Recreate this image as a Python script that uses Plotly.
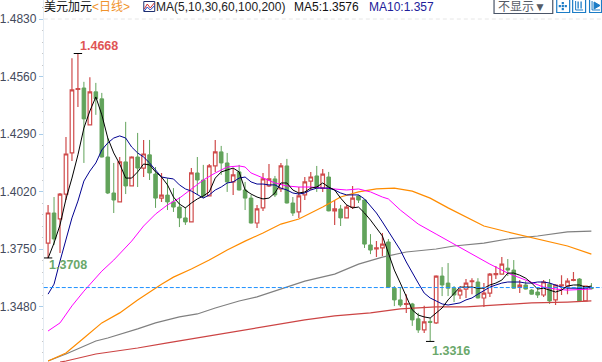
import plotly.graph_objects as go

# ---- data ----
opens = [1.3778,1.3919,1.3891,1.4008,1.4201,1.4499,1.4506,1.4333,1.4488,1.4455,1.4182,1.4013,1.3971,1.4159,1.4046,1.4182,
         1.4130,1.4192,1.4102,1.3989,1.4003,1.3971,1.3947,1.3896,1.3877,1.4107,1.4074,1.3999,1.4140,1.4206,1.4154,1.4065,
         1.4112,1.4027,1.3989,1.3872,1.3943,1.4046,1.4079,1.4032,1.4140,1.3966,1.3924,1.4004,1.4069,1.4093,1.4036,1.4088,
         1.3929,1.3938,1.3896,1.3947,1.3999,1.3980,1.3769,1.3750,1.3755,1.3783,1.3566,1.3511,1.3490,1.3492,1.3422,1.3370,
         1.3410,1.3403,1.3623,1.3590,1.3566,1.3534,1.3562,1.3597,1.3595,1.3520,1.3543,1.3630,1.3632,1.3660,1.3651,1.3571,
         1.3581,1.3557,1.3548,1.3534,1.3585,1.3511,1.3578,1.3576,1.3602,1.3609,1.3506,1.3569]
highs = [1.3957,1.3994,1.4013,1.4276,1.4646,1.4668,1.4535,1.4557,1.4530,1.4483,1.4271,1.4154,1.4182,1.4347,1.4185,1.4295,
         1.4262,1.4262,1.4135,1.4107,1.4083,1.4036,1.3994,1.3947,1.4130,1.4182,1.4145,1.4149,1.4262,1.4234,1.4201,1.4130,
         1.4145,1.4065,1.4004,1.3957,1.4107,1.4149,1.4093,1.4154,1.4173,1.3994,1.4041,1.4088,1.4112,1.4140,1.4126,1.4112,
         1.3980,1.3957,1.3957,1.4046,1.4004,1.3982,1.3820,1.3787,1.3825,1.3797,1.3576,1.3571,1.3538,1.3497,1.3450,1.3483,
         1.3427,1.3627,1.3665,1.3684,1.3576,1.3576,1.3609,1.3613,1.3613,1.3590,1.3637,1.3670,1.3712,1.3703,1.3698,1.3604,
         1.3599,1.3562,1.3566,1.3604,1.3609,1.3585,1.3627,1.3613,1.3642,1.3613,1.3578,1.3590]
lows = [1.3708,1.3769,1.3731,1.3980,1.4163,1.4417,1.4154,1.4330,1.4380,1.4180,1.4008,1.3919,1.3969,1.4008,1.4044,1.4041,
        1.4088,1.4074,1.3943,1.3971,1.3933,1.3924,1.3853,1.3863,1.3875,1.4004,1.3989,1.3997,1.4112,1.4098,1.4018,1.4004,
        1.4025,1.3933,1.3870,1.3849,1.3929,1.4041,1.3994,1.4018,1.3964,1.3905,1.3896,1.3980,1.4027,1.4018,1.4018,1.3927,
        1.3863,1.3858,1.3894,1.3938,1.3966,1.3755,1.3726,1.3712,1.3717,1.3569,1.3482,1.3478,1.3450,1.3389,1.3356,1.3356,
        1.3316,1.3398,1.3529,1.3529,1.3501,1.3515,1.3520,1.3538,1.3518,1.3478,1.3525,1.3609,1.3630,1.3623,1.3564,1.3543,
        1.3560,1.3536,1.3520,1.3525,1.3492,1.3487,1.3534,1.3538,1.3599,1.3504,1.3504,1.3560]
closes = [1.3919,1.3797,1.4008,1.4196,1.4497,1.4503,1.4361,1.4488,1.4455,1.4182,1.4013,1.3980,1.4159,1.4046,1.4182,1.4130,
          1.4196,1.4107,1.3989,1.4003,1.3971,1.3947,1.3896,1.3877,1.4107,1.4074,1.3999,1.4140,1.4206,1.4154,1.4065,1.4098,
          1.4027,1.3989,1.3872,1.3938,1.4079,1.4079,1.4004,1.4140,1.3966,1.3919,1.3999,1.4065,1.4088,1.4036,1.4102,1.3929,
          1.3938,1.3896,1.3947,1.3989,1.3980,1.3773,1.3745,1.3755,1.3773,1.3571,1.3511,1.3487,1.3494,1.3417,1.3370,1.3408,
          1.3405,1.3623,1.3581,1.3566,1.3534,1.3557,1.3590,1.3600,1.3520,1.3543,1.3632,1.3634,1.3679,1.3651,1.3566,1.3581,
          1.3562,1.3538,1.3534,1.3595,1.3506,1.3581,1.3582,1.3599,1.3606,1.3506,1.3576,1.3564]

ma5 = [1.3707,1.3778,1.3863,1.3985,1.4083,1.4192,1.4318,1.4398,1.4464,1.4380,1.4271,1.4201,1.4149,1.4083,1.4083,1.4112,
       1.4149,1.4145,1.4112,1.4088,1.4051,1.3994,1.3961,1.3943,1.3966,1.3985,1.3999,1.4018,1.4083,1.4112,1.4121,1.4130,
       1.4112,1.4027,1.4008,1.3994,1.3985,1.3989,1.4013,1.4060,1.4060,1.4027,1.4013,1.4018,1.4036,1.4041,1.4060,1.4041,
       1.4027,1.3989,1.3957,1.3943,1.3947,1.3919,1.3886,1.3849,1.3811,1.3731,1.3651,1.3590,1.3525,1.3464,1.3440,1.3431,
       1.3426,1.3450,1.3473,1.3511,1.3543,1.3571,1.3571,1.3571,1.3566,1.3566,1.3581,1.3590,1.3604,1.3637,1.3637,1.3627,
       1.3613,1.3590,1.3562,1.3566,1.3557,1.3548,1.3557,1.3576,1.3581,1.3581,1.3571,1.3576]
ma10 = [1.3538,1.3585,1.3693,1.3801,1.3896,1.3975,1.4069,1.4116,1.4154,1.4215,1.4248,1.4271,1.4281,1.4271,1.4229,1.4201,
        1.4182,1.4154,1.4121,1.4088,1.4083,1.4079,1.4051,1.4032,1.4022,1.4004,1.3989,1.4004,1.4027,1.4041,1.4060,1.4065,
        1.4083,1.4088,1.4065,1.4055,1.4055,1.4051,1.4051,1.4036,1.4027,1.4013,1.4008,1.4013,1.4027,1.4036,1.4036,1.4036,
        1.4027,1.4013,1.4004,1.4004,1.4004,1.3985,1.3952,1.3919,1.3877,1.3834,1.3792,1.3745,1.3689,1.3637,1.3590,1.3543,
        1.3520,1.3506,1.3492,1.3487,1.3492,1.3497,1.3511,1.3520,1.3538,1.3553,1.3571,1.3581,1.3590,1.3595,1.3595,1.3595,
        1.3590,1.3590,1.3595,1.3595,1.3590,1.3581,1.3571,1.3566,1.3566,1.3566,1.3566,1.3570]
ma30_idx = [0,2,4,6,9,11,14,16,18,20,22,24,26,28,30,32,33,34,36,38,40,42,44,46,48,50,52,54,56,57,59,62,65,68,71,74,77,80,83,85,87,91]
ma30 = [1.3365,1.3403,1.3483,1.3552,1.3646,1.3698,1.3787,1.3858,1.3914,1.3957,1.3989,1.4032,1.4074,1.4107,1.4135,1.4140,1.4135,
        1.4107,1.4083,1.4060,1.4046,1.4041,1.4041,1.4036,1.4032,1.4027,1.4032,1.4018,1.3994,1.3985,1.3933,1.3867,1.3820,1.3773,
        1.3722,1.3679,1.3637,1.3604,1.3571,1.3562,1.3557,1.3562]
ma60_idx = [0,3,6,9,12,15,19,21,24,27,30,33,36,39,42,46,49,52,55,58,61,64,67,70,73,77,82,87,91]
ma60 = [1.3224,1.3262,1.3332,1.3403,1.3450,1.3511,1.3585,1.3618,1.3656,1.3698,1.3745,1.3787,1.3825,1.3867,1.3891,1.3947,1.3994,
        1.4018,1.4032,1.4036,1.4022,1.3989,1.3943,1.3900,1.3858,1.3830,1.3797,1.3764,1.3726]
ma100_idx = [0,3,8,10,15,18,22,25,28,32,35,39,43,48,52,56,60,65,68,73,77,82,87,91]
ma100 = [1.3224,1.3257,1.3318,1.3332,1.3375,1.3403,1.3431,1.3445,1.3473,1.3506,1.3525,1.3562,1.3599,1.3632,1.3679,1.3712,1.3736,
         1.3750,1.3764,1.3778,1.3797,1.3811,1.3830,1.3834]
ma200_idx = [2,3,8,15,20,29,34,37,41,43,48,54,59,65,70,76,81,87,91]
ma200 = [1.3219,1.3224,1.3257,1.3285,1.3309,1.3351,1.3375,1.3389,1.3408,1.3417,1.3436,1.3450,1.3469,1.3478,1.3478,1.3487,1.3497,
         1.3501,1.3506]

tick_vals = [1.4830, 1.4560, 1.4290, 1.4020, 1.3750, 1.3480]
tick_labels = ["1.4830", "1.4560", "1.4290", "1.4020", "1.3750", "1.3480"]
current_price = 1.3569
top_price = 1.4830
high_point = (5, 1.4668)
low_point_a = (0, 1.3708)
low_point_b = (64, 1.3316)

W, H = 602, 362
RED = "#cf4b4b"
GREEN = "#62a35b"
FONT = "Liberation Sans, Arial, Noto Sans CJK SC"
idx = list(range(len(opens)))

fig = go.Figure()
fig.add_trace(go.Candlestick(
    x=idx, open=opens, high=highs, low=lows, close=closes, whiskerwidth=0,
    increasing=dict(line=dict(color=RED, width=1.2), fillcolor="white"),
    decreasing=dict(line=dict(color=GREEN, width=1), fillcolor=GREEN),
    hoverinfo="skip", showlegend=False))

for xs, ys, col, w in [
    (ma200_idx, ma200, "#cc4444", 1.2),
    (ma100_idx, ma100, "#808080", 1.2),
    (ma60_idx, ma60, "#ff8c00", 1.2),
    (ma30_idx, ma30, "#ff00ff", 1),
    (idx, ma10, "#000090", 1),
    (idx, ma5, "#000000", 1),
]:
    fig.add_trace(go.Scatter(x=xs, y=ys, mode="lines", line=dict(color=col, width=w),
                             hoverinfo="skip", showlegend=False))

fig.add_trace(go.Scatter(
    x=[high_point[0], low_point_a[0], low_point_b[0]],
    y=[high_point[1], low_point_a[1], low_point_b[1]],
    mode="markers",
    marker=dict(symbol="line-ew", size=6, line=dict(color="black", width=1)),
    hoverinfo="skip", showlegend=False))


def px(x):
    return x / W


def py(y):
    return 1 - y / H


shapes = [
    dict(type="line", xref="paper", x0=px(41), x1=1, yref="y", y0=current_price, y1=current_price,
         line=dict(color="#1e90ff", width=1, dash="4px,2px"), layer="above"),
    dict(type="line", xref="paper", x0=px(41), x1=1, yref="y", y0=top_price, y1=top_price,
         line=dict(color="#e6e6e6", width=1, dash="4px,3px"), layer="below"),
]


def rect(x0, y0, x1, y1, line=None, fill=None, w=1):
    shapes.append(dict(type="rect", xref="paper", yref="paper",
                       x0=px(x0), x1=px(x1), y0=py(y0), y1=py(y1),
                       line=dict(color=line or "rgba(0,0,0,0)", width=w if line else 0),
                       fillcolor=fill or "rgba(0,0,0,0)"))


def poly(points, col, w=1, fill=None):
    p = "M " + " L ".join(f"{px(a):.5f} {py(b):.5f}" for a, b in points)
    if fill:
        p += " Z"
    shapes.append(dict(type="path", xref="paper", yref="paper", path=p,
                       line=dict(color=col, width=w), fillcolor=fill or "rgba(0,0,0,0)"))


# MA icon
rect(141.5, 1.5, 152.5, 11.5, line="#1f2f6e", fill="#ffffff")
poly([(142, 9), (145, 4), (148, 8), (152, 3)], "#d03030")
poly([(142, 11), (145, 7), (148, 10), (152, 6)], "#2040c0")
# dropdown button
rect(493.5, -2, 552.5, 13.5, line="#4a5568", w=1.2)
# tool buttons
BLUE = "#1b7cc6"
rect(556.5, -2, 569.5, 12.5, line=BLUE, w=1.2)
for a, b in [(561.5, 2), (561.5, 8), (558.5, 5), (564.5, 5), (561.5, 5)]:
    rect(a, b, a + 2.2, b + 2.2, fill=BLUE)
rect(572.5, -2, 585.5, 12.5, line=BLUE, w=1.2)
poly([(575.5, 1), (575.5, 10), (583, 10)], BLUE)
poly([(578, 1.5), (578, 8.5)], BLUE, 1.3)
poly([(581, 1.5), (581, 8.5)], BLUE, 1.3)
rect(589.5, -2, 601.5, 12.5, line=BLUE, w=1.2)
poly([(592, 1), (592, 10), (600, 10)], BLUE)
poly([(594, 2), (594, 9), (600, 5.5)], BLUE, 1, fill=BLUE)


def head(x, text, color, size=12):
    return dict(text=text, xref="paper", yref="paper", x=px(x), y=py(7.5), xanchor="left", yanchor="middle",
                showarrow=False, font=dict(family=FONT, size=size, color=color), align="left",
                borderpad=0, borderwidth=0)


def value_label(i, price, text, color):
    return dict(text=f"<b>{text}</b>", xref="x", yref="y", x=i, y=price, xanchor="left", yanchor="middle",
                showarrow=False, font=dict(family=FONT, size=12.5, color=color), borderpad=0)


annotations = [
    head(41, "美元加元", "#111111"),
    head(89.5, "&lt;日线&gt;", "#f0922b"),
    head(153.5, "MA(5,10,30,60,100,200)", "#222222"),
    head(292.5, "MA5:1.3576", "#111111"),
    head(368, "MA10:1.357", "#20209a"),
    head(497, "不显示▼", "#555b66"),
    value_label(5.2, 1.4703, "1.4668", "#e05555"),
    value_label(-0.05, 1.3675, "1.3708", "#6aa86a"),
    value_label(64.15, 1.3269, "1.3316", "#6aa86a"),
]

fig.update_layout(
    width=W, height=H, margin=dict(l=0, r=0, t=0, b=0, pad=0),
    paper_bgcolor="white", plot_bgcolor="white",
    boxgap=0.15, showlegend=False, shapes=shapes, annotations=annotations,
    font=dict(family=FONT),
    xaxis=dict(domain=[px(41), 1], range=[-0.717, 92.78], visible=False, rangeslider=dict(visible=False),
               showgrid=False, zeroline=False),
    yaxis=dict(range=[1.32194, 1.49192], tickmode="array", tickvals=tick_vals, ticktext=tick_labels,
               showgrid=False, zeroline=False, showline=True, linecolor="#e4ebf2", linewidth=1,
               ticks="outside", ticklen=4, tickcolor="#a9cdea", tickwidth=1,
               tickfont=dict(family=FONT, size=12, color="#434a5c"),
               minor=dict(ticks="outside", ticklen=1, tickcolor="#c8c8c8", tickwidth=1, dtick=0.0054,
                          tick0=1.4830, showgrid=False)),
)

fig.write_html("out.html", config=dict(displayModeBar=False),
               post_script="document.body.style.margin='0';document.body.style.overflow='hidden';")
